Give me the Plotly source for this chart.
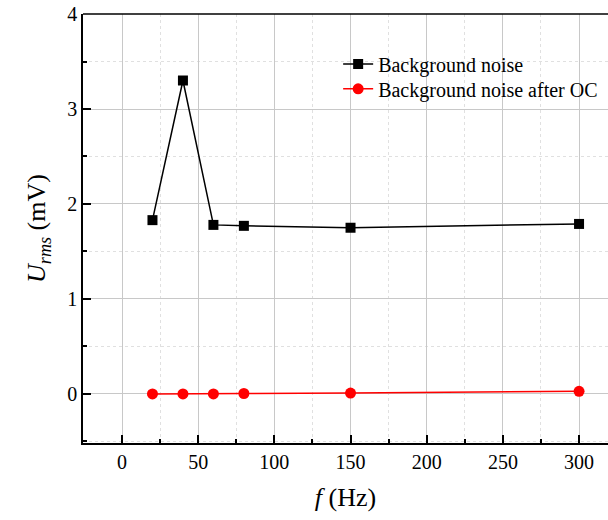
import plotly.graph_objects as go

freq = [20, 40, 60, 80, 150, 300]
noise = [1.83, 3.30, 1.78, 1.77, 1.75, 1.79]
noise_oc = [0.0, 0.0, 0.0, 0.005, 0.01, 0.028]
x_ticks = [0, 50, 100, 150, 200, 250, 300]
y_ticks = [0, 1, 2, 3, 4]

FONT = "Liberation Serif"

fig = go.Figure()
fig.add_trace(go.Scatter(x=freq, y=noise, mode="lines+markers", name="Background noise",
                         line=dict(color="black", width=1.5), legend="legend",
                         marker=dict(symbol="square", size=10, color="black")))
fig.add_trace(go.Scatter(x=freq, y=noise_oc, mode="lines+markers", name="Background noise after OC",
                         line=dict(color="#ff0000", width=1.5), legend="legend2",
                         marker=dict(symbol="circle", size=11, color="#ff0000")))

leg_common = dict(xanchor="left", yanchor="top", font=dict(family=FONT, size=20, color="black"),
                  bgcolor="rgba(0,0,0,0)", borderwidth=0)
fig.update_layout(
    width=608, height=520,
    margin=dict(l=83, r=0, t=14, b=77),
    plot_bgcolor="white", paper_bgcolor="white",
    font=dict(family=FONT, size=19, color="black"),
    showlegend=True,
    legend=dict(x=0.486, y=0.929, **leg_common),
    legend2=dict(x=0.486, y=0.871, **leg_common),
    shapes=[dict(type="line", xref="paper", yref="paper", x0=0, x1=1, y0=1, y1=1,
                 line=dict(color="black", width=1.5))],
)
fig.update_xaxes(
    range=[-25.6, 319.0], tickvals=x_ticks, ticks="inside", ticklen=8, tickwidth=1.5,
    tickcolor="black", showline=True, linecolor="black", linewidth=1.5, mirror=False,
    showgrid=True, gridcolor="#c8c8c8", gridwidth=1, zeroline=False,
    minor=dict(dtick=25, ticks="inside", ticklen=4, tickcolor="black", showgrid=True,
               gridcolor="#e0e0e0", griddash="dot"),
    title=dict(text="<i>f</i> (Hz)", font=dict(family=FONT, size=26), standoff=16),
    tickfont=dict(family=FONT, size=20),
)
fig.update_yaxes(
    range=[-0.516, 4.0], tickvals=y_ticks, ticks="inside", ticklen=8, tickwidth=1.5,
    tickcolor="black", showline=True, linecolor="black", linewidth=1.5, mirror=False,
    showgrid=True, gridcolor="#c8c8c8", gridwidth=1, zeroline=False,
    minor=dict(dtick=0.5, ticks="inside", ticklen=4, tickcolor="black", showgrid=True,
               gridcolor="#e0e0e0", griddash="dot"),
    title=dict(text="<i>U</i><sub><i>rms</i></sub> (mV)", font=dict(family=FONT, size=26), standoff=14),
    tickfont=dict(family=FONT, size=20),
)

fig.write_html("out.html")
